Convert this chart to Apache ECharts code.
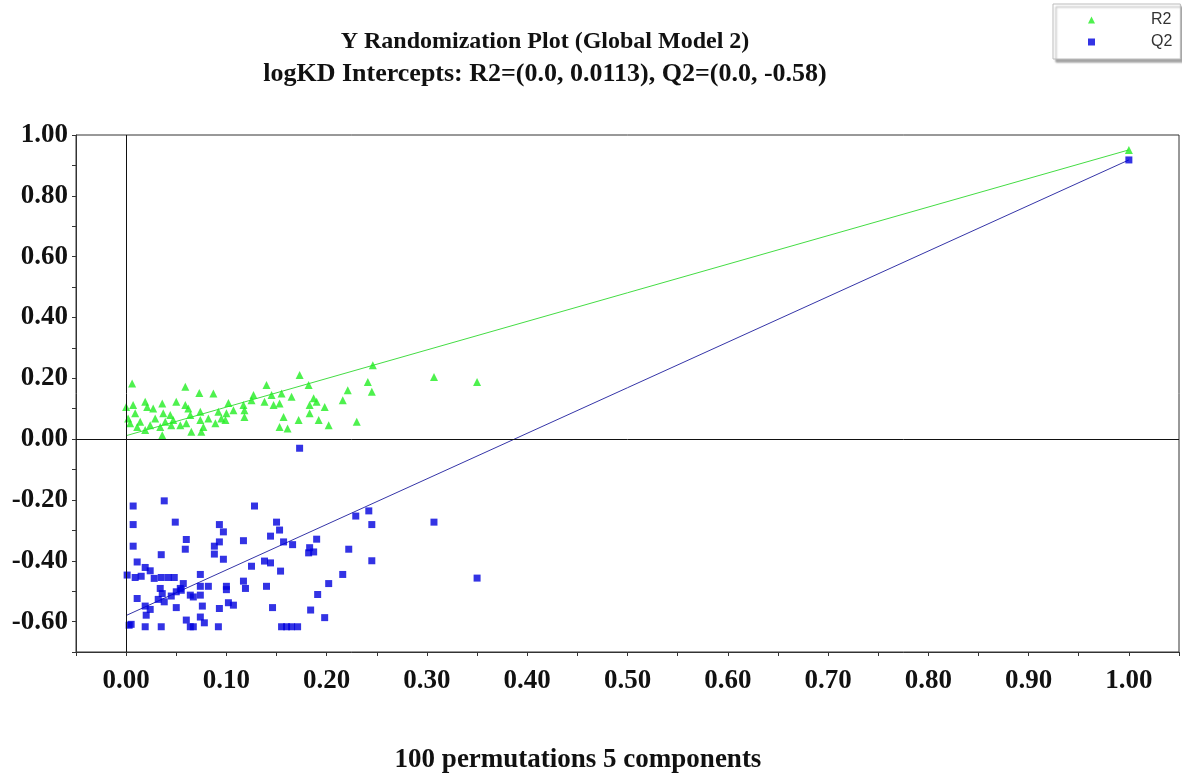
<!DOCTYPE html>
<html>
<head>
<meta charset="utf-8">
<title>Y Randomization Plot</title>
<script src="https://cdn.jsdelivr.net/npm/echarts@6/dist/echarts.min.js"></script>
<style>
  html, body { margin: 0; padding: 0; background: #fff; }
  #chart { width: 1182px; height: 776px; }
</style>
</head>
<body>
<div id="chart"></div>
<script>
// R2 of each permuted model, [correlation, R2]
const r2Points = [
  [0.006, 0.183], [0.000, 0.106], [0.007, 0.112], [0.002, 0.068], [0.004, 0.052],
  [0.009, 0.085], [0.011, 0.040], [0.019, 0.123], [0.021, 0.106], [0.014, 0.057],
  [0.019, 0.030], [0.024, 0.046], [0.027, 0.101], [0.029, 0.068], [0.036, 0.117],
  [0.037, 0.085], [0.034, 0.040], [0.036, 0.013], [0.039, 0.057], [0.044, 0.079],
  [0.045, 0.046], [0.050, 0.123], [0.047, 0.063], [0.054, 0.046], [0.059, 0.172],
  [0.059, 0.112], [0.062, 0.101], [0.064, 0.079], [0.060, 0.052], [0.065, 0.024],
  [0.073, 0.152], [0.074, 0.090], [0.074, 0.063], [0.077, 0.040], [0.075, 0.024],
  [0.082, 0.068], [0.087, 0.150], [0.089, 0.052], [0.092, 0.090], [0.095, 0.068],
  [0.099, 0.063], [0.102, 0.119], [0.100, 0.085], [0.107, 0.095], [0.117, 0.112],
  [0.118, 0.095], [0.118, 0.073], [0.127, 0.145], [0.125, 0.128], [0.138, 0.123],
  [0.140, 0.178], [0.145, 0.145], [0.147, 0.112], [0.153, 0.117], [0.155, 0.150],
  [0.157, 0.073], [0.153, 0.040], [0.161, 0.035], [0.165, 0.139], [0.173, 0.211],
  [0.172, 0.063], [0.182, 0.178], [0.183, 0.112], [0.187, 0.134], [0.183, 0.085],
  [0.190, 0.123], [0.192, 0.063], [0.198, 0.106], [0.202, 0.046], [0.216, 0.128],
  [0.221, 0.161], [0.230, 0.057], [0.241, 0.188], [0.245, 0.156], [0.246, 0.243],
  [0.307, 0.204], [0.350, 0.188], [1.000, 0.951]
]

// Q2 of each permuted model, [correlation, Q2]
const q2Points = [
  [0.007, -0.220], [0.038, -0.203], [0.007, -0.281], [0.007, -0.352], [0.011, -0.404],
  [0.001, -0.447], [0.009, -0.455], [0.015, -0.451], [0.019, -0.422], [0.024, -0.433],
  [0.028, -0.458], [0.035, -0.455], [0.042, -0.455], [0.048, -0.455], [0.035, -0.380],
  [0.049, -0.273], [0.034, -0.491], [0.036, -0.508], [0.011, -0.524], [0.032, -0.527],
  [0.038, -0.535], [0.045, -0.516], [0.050, -0.502], [0.054, -0.491], [0.057, -0.475],
  [0.055, -0.497], [0.019, -0.549], [0.024, -0.560], [0.020, -0.579], [0.003, -0.612],
  [0.005, -0.609], [0.019, -0.617], [0.035, -0.617], [0.050, -0.554], [0.060, -0.330],
  [0.059, -0.362], [0.060, -0.595], [0.064, -0.617], [0.067, -0.617], [0.064, -0.513],
  [0.067, -0.519], [0.074, -0.445], [0.074, -0.484], [0.074, -0.513], [0.076, -0.549],
  [0.074, -0.585], [0.078, -0.604], [0.082, -0.484], [0.092, -0.617], [0.093, -0.557],
  [0.102, -0.538], [0.107, -0.546], [0.088, -0.352], [0.088, -0.378], [0.093, -0.338],
  [0.093, -0.281], [0.097, -0.305], [0.097, -0.395], [0.100, -0.484], [0.100, -0.495],
  [0.117, -0.334], [0.117, -0.467], [0.119, -0.491], [0.125, -0.418], [0.128, -0.220],
  [0.138, -0.401], [0.144, -0.407], [0.140, -0.484], [0.146, -0.554], [0.150, -0.273],
  [0.153, -0.299], [0.144, -0.319], [0.157, -0.338], [0.154, -0.434], [0.155, -0.617],
  [0.160, -0.617], [0.165, -0.617], [0.171, -0.617], [0.166, -0.347], [0.182, -0.374],
  [0.183, -0.357], [0.187, -0.371], [0.190, -0.329], [0.184, -0.562], [0.191, -0.511],
  [0.198, -0.587], [0.202, -0.475], [0.216, -0.445], [0.222, -0.362], [0.229, -0.253],
  [0.242, -0.236], [0.245, -0.281], [0.245, -0.400], [0.173, -0.030], [0.307, -0.273],
  [0.350, -0.457], [1.000, 0.918]
]

// regression lines: intercept at 0 to the unpermuted model at 1
const r2Line = [[0.0, 0.0113], [1.0, 0.951]]
const q2Line = [[0.0, -0.58], [1.0, 0.918]]

const titleText = 'Y Randomization Plot (Global Model 2)'
const subText = 'logKD Intercepts: R2=(0.0, 0.0113), Q2=(0.0, -0.58)'
const xName = '100 permutations 5 components'

const serif = '"Liberation Serif", "Times New Roman", serif'

const chart = echarts.init(document.getElementById('chart'))

chart.setOption({
  animation: false,
  backgroundColor: '#fff',
  title: [
    {
      text: titleText,
      left: 540,
      top: 25,
      textAlign: 'center',
      textStyle: { fontFamily: serif, fontWeight: 'bold', fontSize: 24, color: '#111' }
    },
    {
      text: subText,
      left: 540,
      top: 56,
      textAlign: 'center',
      textStyle: { fontFamily: serif, fontWeight: 'bold', fontSize: 26, color: '#111' }
    },
    {
      text: xName,
      left: 573,
      top: 742,
      textAlign: 'center',
      textStyle: { fontFamily: serif, fontWeight: 'bold', fontSize: 27, color: '#111' }
    }
  ],
  legend: {
    data: ['R2', 'Q2'],
    orient: 'vertical',
    left: 1053,
    top: 4,
    padding: [8, 8, 9, 35],
    itemGap: 6,
    itemWidth: 7,
    itemHeight: 7,
    backgroundColor: '#fff',
    borderColor: '#bbb',
    borderWidth: 1,
    shadowColor: 'rgba(0,0,0,0.35)',
    shadowBlur: 2,
    shadowOffsetX: 3,
    shadowOffsetY: 3,
    textStyle: {
      fontFamily: '"Liberation Sans", Arial, sans-serif',
      fontSize: 16,
      color: '#333',
      padding: [0, 0, 0, 51]
    }
  },
  grid: {
    left: 76,
    right: 2,
    top: 135,
    bottom: 124,
    show: true,
    borderColor: '#333',
    borderWidth: 1
  },
  xAxis: {
    type: 'value',
    min: -0.05,
    max: 1.05,
    interval: 0.05,
    axisLine: { onZero: false, lineStyle: { color: '#333', width: 1 } },
    axisTick: { show: true, length: 4, lineStyle: { color: '#333' } },
    splitLine: { show: false },
    axisLabel: {
      margin: 16,
      fontFamily: serif,
      fontWeight: 'bold',
      fontSize: 27,
      color: '#111',
      formatter: function (v) {
        const k = Math.round(v * 20)
        if (k < 0 || k > 20 || k % 2 !== 0) return ''
        return (k / 20).toFixed(2)
      }
    }
  },
  yAxis: {
    type: 'value',
    min: -0.7,
    max: 1.0,
    interval: 0.1,
    axisLine: { onZero: false, lineStyle: { color: '#333', width: 1 } },
    axisTick: { show: true, length: 4, lineStyle: { color: '#333' } },
    splitLine: { show: false },
    axisLabel: {
      margin: 8,
      fontFamily: serif,
      fontWeight: 'bold',
      fontSize: 27,
      color: '#111',
      formatter: function (v) {
        const k = Math.round(v * 10)
        if (k % 2 !== 0) return ''
        return ((k / 10) || 0).toFixed(2)
      }
    }
  },
  series: [
    {
      name: 'R2 fit',
      type: 'line',
      data: r2Line,
      symbol: 'none',
      silent: true,
      z: 1,
      lineStyle: { color: '#44dd44', width: 1 },
      markLine: {
        silent: true,
        symbol: 'none',
        label: { show: false },
        lineStyle: { color: '#111', width: 1, type: 'solid' },
        data: [{ xAxis: 0 }, { yAxis: 0 }]
      }
    },
    {
      name: 'Q2 fit',
      type: 'line',
      data: q2Line,
      symbol: 'none',
      silent: true,
      z: 1,
      lineStyle: { color: '#3535a8', width: 1 }
    },
    {
      name: 'R2',
      type: 'scatter',
      data: r2Points,
      symbol: 'triangle',
      symbolSize: 8,
      z: 3,
      itemStyle: { color: '#22ee22' }
    },
    {
      name: 'Q2',
      type: 'scatter',
      data: q2Points,
      symbol: 'rect',
      symbolSize: 7,
      z: 3,
      itemStyle: { color: '#0000dd' }
    }
  ]
})
</script>
</body>
</html>
